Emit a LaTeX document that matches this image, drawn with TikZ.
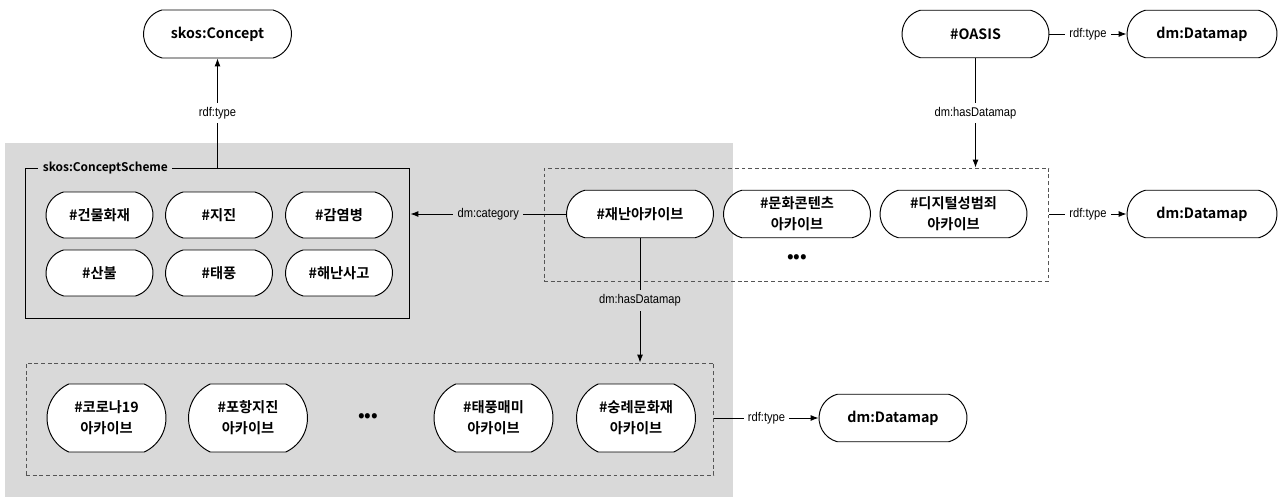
\documentclass[tikz,border=0pt]{standalone}
\usepackage{fontspec}
\usepackage{tikz}
\usetikzlibrary{arrows.meta, shapes.misc, positioning, calc}
\setmainfont{Noto Sans CJK KR}[BoldFont={Noto Sans CJK KR Bold}]
\newfontfamily\edgefont{Liberation Sans}[FakeStretch=0.88]
\definecolor{bggray}  {RGB}{217, 217, 217}
\definecolor{dashgray}{RGB}{ 85,  85,  85}

\begin{document}
\begin{tikzpicture}[x=0.02cm, y=-0.02cm, line width=0.55pt,
	pill/.style={draw, fill=white, rounded rectangle, rounded rectangle arc length=150,
		inner sep=0pt, minimum width=2.94cm, minimum height=0.95cm, align=center,
		font=\fontsize{8.1}{12}\selectfont\bfseries},
	conpill/.style={pill, minimum width=2.14cm, minimum height=0.92cm},
	lowpill/.style={pill, rounded rectangle arc length=130, minimum width=2.38cm, minimum height=1.36cm},
	dashbox/.style={draw=dashgray, dash pattern=on 2.2pt off 1.6pt, inner sep=0pt},
	elbl/.style={inner sep=2.5pt, font=\edgefont\fontsize{7.2}{8}\selectfont},
	dots/.style={font=\fontsize{10}{10}\selectfont\bfseries}
]
	\useasboundingbox (0,0) rectangle (1280,499);
	\fill[bggray] (5,143) rectangle (733,497);

	\node[conpill, minimum width=2.96cm, minimum height=0.96cm] (concept) at (217.5,34) {skos:Concept};
	\node[draw, inner sep=0pt, minimum width=7.7cm, minimum height=3cm] (scheme) at (217.5,243) {};
	\node[fill=bggray, anchor=west, inner sep=2.5pt, font=\fontsize{6.8}{8}\selectfont\bfseries] (schemelbl) at (38,168) {skos:ConceptScheme};
	\node[conpill] (fire)     at (99.5,215) {\#건물화재};
	\node[conpill] (quake)    at (219,215)  {\#지진};
	\node[conpill] (epidemic) at (339,215)  {\#감염병};
	\node[conpill] (wildfire) at (99.5,273) {\#산불};
	\node[conpill] (typhoon)  at (219,273)  {\#태풍};
	\node[conpill] (marine)   at (339,273)  {\#해난사고};

	\node[pill] (oasis) at (975.5,34) {\#OASIS};
	\node[pill, minimum width=3cm] (dmtop) at (1202,34) {dm:Datamap};

	\node[dashbox, minimum width=10.1cm, minimum height=2.26cm] (archbox) at (796.5,224.5) {};
	\node[pill] (disaster) at (640,214)   {\#재난아카이브};
	\node[pill] (culture)  at (797,214)   {\#문화콘텐츠\\아카이브};
	\node[pill] (crime)    at (953.5,214) {\#디지털성범죄\\아카이브};
	\node[dots] (archdots) at (797,259) {•••};
	\node[pill, minimum width=3cm] (dmmid) at (1202,214) {dm:Datamap};

	\node[dashbox, minimum width=13.76cm, minimum height=2.24cm] (lowbox) at (370,419) {};
	\node[lowpill] (corona)  at (106.5,418) {\#코로나19\\아카이브};
	\node[lowpill] (pohang)  at (248,418)   {\#포항지진\\아카이브};
	\node[dots] (lowdots) at (368,418) {•••};
	\node[lowpill] (maemi)   at (493.5,418) {\#태풍매미\\아카이브};
	\node[lowpill] (sungnye) at (636,418)   {\#숭례문화재\\아카이브};
	\node[pill, minimum width=2.96cm] (dmlow) at (893,418) {dm:Datamap};

	\begin{scope}[-{Latex[length=4.5pt,width=3.4pt]}]
		\draw (scheme.north) -- node[elbl, fill=white] {rdf:type} (concept.south);
		\draw (disaster.west) -- node[elbl, fill=bggray] {dm:category} (disaster.west -| scheme.east);
		\draw (disaster.south) -- node[elbl, fill=bggray] {dm:hasDatamap} (disaster.south |- lowbox.north);
		\draw (oasis.south) -- node[elbl, fill=white] {dm:hasDatamap} (oasis.south |- archbox.north);
		\draw (oasis.east) -- node[elbl, fill=white] {rdf:type} (dmtop.west);
		\draw (archbox.east |- dmmid.west) -- node[elbl, fill=white] {rdf:type} (dmmid.west);
		\draw (lowbox.east |- dmlow.west) -- node[elbl, fill=white] {rdf:type} (dmlow.west);
	\end{scope}
\end{tikzpicture}
\end{document}
